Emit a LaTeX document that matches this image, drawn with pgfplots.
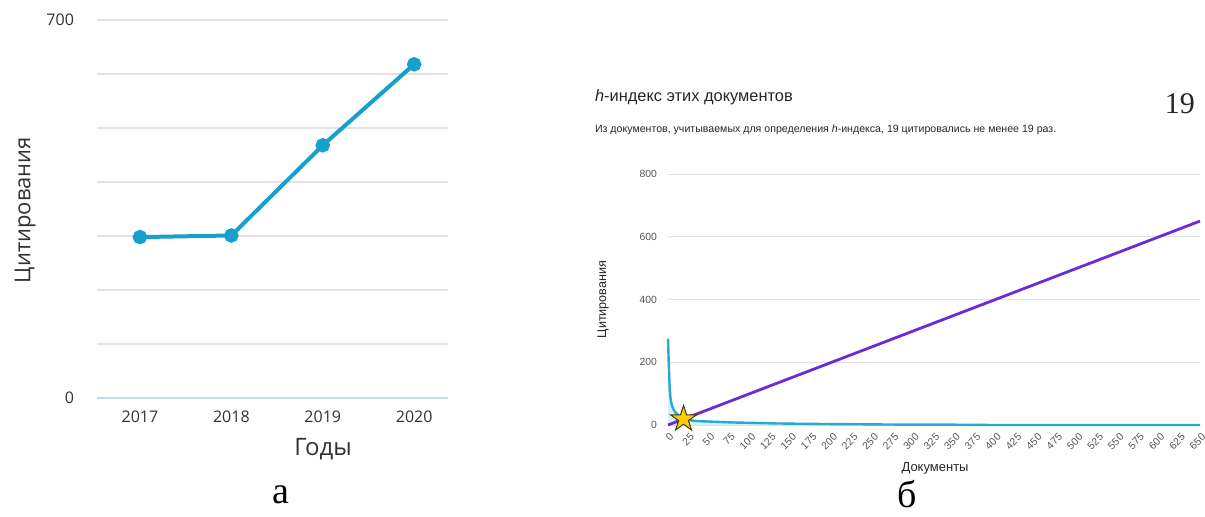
\documentclass[border=0pt]{standalone}
\usepackage{fontspec}
\setmainfont{Liberation Serif}
\newfontfamily\osans{Open Sans}
\newfontfamily\lsans{Liberation Sans}
\usepackage{pgfplots}
\pgfplotsset{compat=1.18}

\definecolor{lineblue}{RGB}{22,160,206}
\definecolor{curveblue}{RGB}{38,170,210}
\definecolor{hpurple}{RGB}{108,43,217}
\definecolor{gridgrey}{RGB}{226,226,226}
\definecolor{zeroline}{RGB}{196,218,236}
\definecolor{textdark}{RGB}{50,50,50}
\definecolor{textgrey}{RGB}{85,85,85}
\definecolor{stargold}{RGB}{255,204,0}
\definecolor{staredge}{RGB}{70,55,10}

% filled five-pointed star
\pgfdeclareplotmark{fstar}{%
  \pgfpathmoveto{\pgfpointpolar{90}{\pgfplotmarksize}}%
  \pgfpathlineto{\pgfpointpolar{126}{0.382\pgfplotmarksize}}%
  \pgfpathlineto{\pgfpointpolar{162}{\pgfplotmarksize}}%
  \pgfpathlineto{\pgfpointpolar{198}{0.382\pgfplotmarksize}}%
  \pgfpathlineto{\pgfpointpolar{234}{\pgfplotmarksize}}%
  \pgfpathlineto{\pgfpointpolar{270}{0.382\pgfplotmarksize}}%
  \pgfpathlineto{\pgfpointpolar{306}{\pgfplotmarksize}}%
  \pgfpathlineto{\pgfpointpolar{342}{0.382\pgfplotmarksize}}%
  \pgfpathlineto{\pgfpointpolar{18}{\pgfplotmarksize}}%
  \pgfpathlineto{\pgfpointpolar{54}{0.382\pgfplotmarksize}}%
  \pgfpathclose
  \pgfusepathqfillstroke}

\pgfplotstableread{
x y
0 275
1 190
2 120
3 88
4 72
5 60
7 48
10 38
13 30
16 24
19 19
25 16
30 14
40 12
60 10
80 8
100 7
130 5
160 4
200 3
250 2
300 1
350 1
400 0
650 0
}\citedocs

\begin{document}
\begin{tikzpicture}[x=0.5pt,y=0.5pt]
\useasboundingbox (0,0) rectangle (1205,516);

% ---- a: citations per year
\begin{axis}[
  at={(48.5pt,59pt)}, anchor=south west,
  scale only axis, width=175.5pt, height=189pt,
  xmin=2016.53, xmax=2020.37, ymin=0, ymax=700,
  xtick={2017,2018,2019,2020},
  ytick={100,200,...,700},
  yticklabels={,,,,,,700},
  extra y ticks={0}, extra y tick labels={0},
  extra y tick style={grid style={color=zeroline, line width=0.8pt}},
  ymajorgrids, grid style={color=gridgrey, line width=0.6pt},
  axis line style={draw=none}, tick style={draw=none},
  /pgf/number format/assume math mode=true,
  /pgf/number format/1000 sep={},
  ticklabel style={font=\osans\fontsize{8}{9}\selectfont, text=textdark},
  xticklabel style={yshift=-3pt},
  yticklabel style={xshift=-8pt},
  xlabel={Годы}, ylabel={Цитирования},
  xlabel style={at={(axis description cs:0.644,-0.135)}, anchor=center,
    font=\osans\fontsize{12}{14}\selectfont, text=textdark},
  ylabel style={at={(axis description cs:-0.205,0.497)}, anchor=center,
    font=\osans\fontsize{11}{13}\selectfont, text=textdark},
]
\addplot[color=lineblue, line width=2pt, mark=*, mark size=2.6pt,
  mark options={fill=lineblue, draw=lineblue}]
  coordinates {(2017,298) (2018,301) (2019,468) (2020,618)};
\end{axis}

% ---- b: h-index graph
\begin{axis}[
  at={(334pt,45.5pt)}, anchor=south west,
  scale only axis, width=266pt, height=125.5pt,
  xmin=0, xmax=650, ymin=0, ymax=800,
  xtick={0,25,...,650},
  ytick={0,200,...,800},
  ymajorgrids, grid style={color=gridgrey, line width=0.5pt},
  axis line style={draw=none}, tick style={draw=none},
  /pgf/number format/assume math mode=true,
  ticklabel style={font=\lsans\fontsize{5.2}{6}\selectfont, text=textgrey},
  yticklabel style={xshift=-2pt},
  xticklabel style={inner sep=0pt, xshift=2pt, yshift=-5pt, rotate=45, anchor=east},
  xlabel={Документы}, ylabel={Цитирования},
  xlabel style={at={(axis description cs:0.502,-0.171)}, anchor=center,
    font=\lsans\fontsize{6.5}{8}\selectfont, text=black!85},
  ylabel style={at={(axis description cs:-0.122,0.5)}, anchor=center,
    font=\lsans\fontsize{6.3}{8}\selectfont, text=black!85},
  clip=false,
]
\addplot[draw=none, fill=curveblue!18] table {\citedocs} \closedcycle;
\addplot[color=curveblue, line width=1.2pt] table {\citedocs};
\addplot[color=hpurple, line width=1.4pt] coordinates {(0,0) (650,650)};
\addplot[only marks, mark=fstar, mark size=6.8pt,
  mark options={fill=stargold, draw=staredge, line width=0.5pt}]
  coordinates {(19,19)};
\end{axis}

% headings of panel b
\node[anchor=west, font=\lsans\fontsize{8.2}{10}\selectfont, text=black!85]
  at (588,419) {\textit{h}-индекс этих документов};
\node[anchor=east, font=\fontsize{15}{17}\selectfont, text=black!85]
  at (1202,412) {19};
\node[anchor=west, font=\lsans\fontsize{5.3}{7}\selectfont, text=black!85]
  at (588,386) {Из документов, учитываемых для определения \textit{h}-индекса, 19 цитировались не менее 19 раз.};

% panel letters
\node[font=\fontsize{19}{21}\selectfont, inner sep=1pt] at (281,21) {а};
\node[font=\fontsize{19}{21}\selectfont, inner sep=1pt] at (907,22) {б};
\end{tikzpicture}
\end{document}
